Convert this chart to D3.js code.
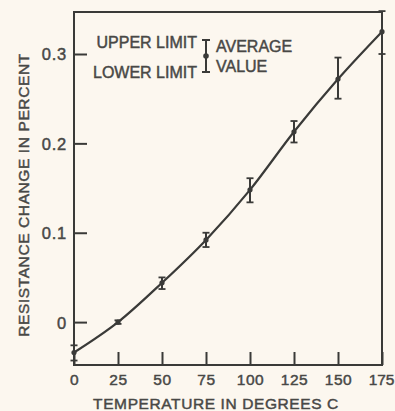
<!DOCTYPE html>
<html><head><meta charset="utf-8">
<script src="https://cdn.jsdelivr.net/npm/d3@7"></script>
<style>
html,body{margin:0;padding:0;background:#fcf7ef;}
svg{display:block;}
text{font-family:"Liberation Sans",Arial,sans-serif;fill:#484846;stroke:#484846;stroke-width:0.45px;}
</style></head>
<body>
<svg id="c" width="395" height="411"></svg>
<script>
const temps = [0, 25, 50, 75, 100, 125, 150, 175];
const avgValues = [-0.034, 0.0, 0.044, 0.092, 0.148, 0.213, 0.272, 0.325];
const upperLimits = [-0.026, 0.002, 0.050, 0.100, 0.161, 0.225, 0.296, 0.348];
const lowerLimits = [-0.043, -0.002, 0.037, 0.084, 0.134, 0.201, 0.250, 0.300];
const xTicks = [0, 25, 50, 75, 100, 125, 150, 175];
const xTickLabels = ["0", "25", "50", "75", "100", "125", "150", "175"];
const yTicks = [0, 0.1, 0.2, 0.3];
const yTickLabels = ["0", "0.1", "0.2", "0.3"];

const svg = d3.select("#c");
const ink = "#3a3a38";
const L = 74, R = 382, T = 12, B = 365;
const x = d3.scaleLinear().domain([0, 175]).range([L, R]);
const y = d3.scaleLinear().domain([-0.048, 0.347]).range([B, T]);
const ff = '"Liberation Sans",Arial,sans-serif';

// frame
svg.append("rect").attr("x", L).attr("y", T).attr("width", R - L).attr("height", B - T)
  .attr("fill", "none").attr("stroke", ink).attr("stroke-width", 2);

// y axis
const yAxis = d3.axisLeft(y).tickValues(yTicks).tickSize(-13).tickPadding(7)
  .tickFormat((d, i) => yTickLabels[i]);
const gy = svg.append("g").attr("transform", `translate(${L},0)`).call(yAxis);
gy.select(".domain").remove();
gy.selectAll(".tick line").attr("stroke", ink).attr("stroke-width", 2);
gy.selectAll(".tick text").attr("font-size", 16.5).attr("fill", "#484846")
  .style("font-family", ff).attr("letter-spacing", 0.8).attr("dy", "0.36em");

// x axis
const xAxis = d3.axisBottom(x).tickValues(xTicks).tickSize(-13).tickPadding(17)
  .tickFormat((d, i) => xTickLabels[i]);
const gx = svg.append("g").attr("transform", `translate(0,${B})`).call(xAxis);
gx.select(".domain").remove();
gx.selectAll(".tick line").attr("stroke", ink).attr("stroke-width", 2);
gx.selectAll(".tick text").attr("font-size", 15.5).attr("fill", "#484846")
  .style("font-family", ff).attr("letter-spacing", 0.6).attr("dy", "0.2em");
gx.selectAll(".tick text").filter(d => d === 175).attr("text-anchor", "end").attr("x", 12).attr("letter-spacing", 0);

// axis titles
svg.append("text").attr("x", 216).attr("y", 409).attr("text-anchor", "middle")
  .attr("font-size", 15.5).attr("letter-spacing", 0.6).text("TEMPERATURE IN DEGREES C");
svg.append("text").attr("transform", "translate(29,195) rotate(-90)").attr("text-anchor", "middle")
  .attr("font-size", 15.5).attr("letter-spacing", 0.6).text("RESISTANCE CHANGE IN PERCENT");

// curve
const pts = temps.map((t, i) => [t, avgValues[i]]);
const line = d3.line().x(d => x(d[0])).y(d => y(d[1])).curve(d3.curveMonotoneX);
svg.append("path").attr("d", line(pts)).attr("fill", "none").attr("stroke", ink).attr("stroke-width", 2.2);

// error bars
const eb = svg.append("g");
temps.forEach((t, i) => {
  const cx = x(t);
  eb.append("line").attr("x1", cx).attr("x2", cx).attr("y1", y(upperLimits[i])).attr("y2", y(lowerLimits[i]))
    .attr("stroke", ink).attr("stroke-width", 2);
  [upperLimits[i], lowerLimits[i]].forEach(v => {
    eb.append("line").attr("x1", cx - 3.5).attr("x2", cx + 3.5).attr("y1", y(v)).attr("y2", y(v))
      .attr("stroke", ink).attr("stroke-width", 1.8);
  });
  eb.append("circle").attr("cx", cx).attr("cy", y(avgValues[i])).attr("r", 2.6).attr("fill", ink);
});

// legend
const lg = svg.append("g");
lg.append("text").attr("x", 197).attr("y", 48).attr("text-anchor", "end").attr("font-size", 16).text("UPPER LIMIT");
lg.append("text").attr("x", 197).attr("y", 78).attr("text-anchor", "end").attr("font-size", 16).text("LOWER LIMIT");
lg.append("text").attr("x", 216).attr("y", 52).attr("font-size", 16).text("AVERAGE");
lg.append("text").attr("x", 216).attr("y", 72).attr("font-size", 16).text("VALUE");
const lx = 206;
lg.append("line").attr("x1", lx).attr("x2", lx).attr("y1", 40).attr("y2", 72).attr("stroke", ink).attr("stroke-width", 2);
lg.append("line").attr("x1", lx - 4).attr("x2", lx + 4).attr("y1", 40).attr("y2", 40).attr("stroke", ink).attr("stroke-width", 2);
lg.append("line").attr("x1", lx - 4).attr("x2", lx + 4).attr("y1", 72).attr("y2", 72).attr("stroke", ink).attr("stroke-width", 2);
lg.append("circle").attr("cx", lx).attr("cy", 56).attr("r", 2.8).attr("fill", ink);
</script>
</body></html>
